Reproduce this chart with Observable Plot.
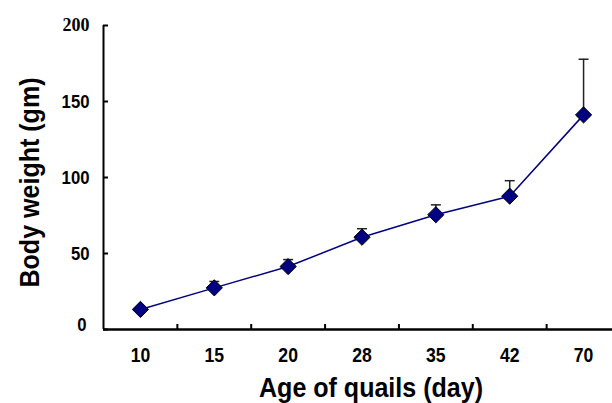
<!DOCTYPE html>
<html><head><meta charset="utf-8">
<script src="https://cdn.jsdelivr.net/npm/d3@7"></script>
<script src="https://cdn.jsdelivr.net/npm/@observablehq/plot@0.6"></script>
<style>body{margin:0;background:#fff}</style>
</head><body><div id="chart"></div>
<script>
const ages = ["10", "15", "20", "28", "35", "42", "70"];
const weights = [13.2, 27.4, 41.4, 60.7, 75.5, 87.7, 141.2];
const errors = [1, 4.2, 4.6, 5.6, 6.5, 10.2, 36.6];
const yTicks = [0, 50, 100, 150, 200];
const xTitle = "Age of quails (day)";
const yTitle = "Body weight (gm)";

const sans = "'Liberation Sans',Arial,sans-serif";
const serif = "'Liberation Serif','Times New Roman',serif";
const data = ages.map((a, i) => ({i, age: a, w: weights[i], top: weights[i] + errors[i]}));
const idx = d3.range(ages.length);
const xDomain = [-0.5, ages.length - 0.5];
const bounds = idx.slice(1).map(i => i - 0.5);
const cap = {draw(ctx, size) { const w = Math.sqrt(size / Math.PI); ctx.moveTo(-w, 0); ctx.lineTo(w, 0); }};

const plot = Plot.plot({
  width: 612, height: 403,
  marginLeft: 103, marginRight: -8, marginTop: 25, marginBottom: 74,
  style: {fontFamily: sans, fontWeight: "bold", fontSize: "20px", color: "#000", background: "#fff"},
  x: {type: "linear", domain: xDomain},
  y: {domain: [0, 200]},
  marks: [
    Plot.axisY({ticks: yTicks, tickSize: -5, tickFormat: () => "", label: null, strokeWidth: 2}),
    Plot.axisY({ticks: yTicks.filter(v => v !== 200 && v !== 0), tickSize: 0, tickPadding: 14, label: null, fontSize: 19}),
    Plot.axisY({ticks: yTicks.filter(v => v === 0), tickSize: 0, tickPadding: 17, dy: -5, label: null, fontSize: 19}),
    Plot.axisY({ticks: yTicks.filter(v => v === 200), tickSize: 0, tickPadding: 14, label: null, fontFamily: serif, fontSize: 18}),
    Plot.axisX({ticks: bounds, tickSize: -5, tickFormat: () => "", label: null, strokeWidth: 2}),
    Plot.axisX({ticks: idx, tickSize: 0, tickPadding: 18, tickFormat: i => ages[i], label: null, fontSize: 20}),
    Plot.ruleX([xDomain[0]], {y1: 0, y2: 200, strokeWidth: 2}),
    Plot.ruleY([0], {strokeWidth: 2.5}),
    Plot.ruleX(data, {x: "i", y1: "w", y2: "top", stroke: "#222", strokeWidth: 1.5}),
    Plot.dot(data, {x: "i", y: "top", symbol: cap, r: 5, stroke: "#222", strokeWidth: 1.5, fill: "none"}),
    Plot.line(data, {x: "i", y: "w", stroke: "#000080", strokeWidth: 1.5}),
    Plot.dot(data, {x: "i", y: "w", symbol: "diamond2", r: 7.3, fill: "#000080", stroke: "#000", strokeWidth: 1}),
    Plot.text([xTitle], {text: d => d, frameAnchor: "bottom", lineAnchor: "middle", textAnchor: "middle", dx: 9, dy: 59, fontSize: 27, fontFamily: sans, fontWeight: "bold"}),
    Plot.text([yTitle], {text: d => d, frameAnchor: "left", lineAnchor: "middle", textAnchor: "middle", dx: -73, dy: 5, rotate: -90, fontSize: 27, fontFamily: sans, fontWeight: "bold"})
  ]
});
document.getElementById("chart").append(plot);

// condense the Arial-Narrow-like labels
const titleLengths = {[xTitle]: 224, [yTitle]: 210};
plot.querySelectorAll("text").forEach(t => {
  const s = t.textContent;
  if (!s) return;
  const L = t.getComputedTextLength();
  if (!(L > 0)) return;
  let target;
  if (s in titleLengths) target = titleLengths[s];
  else if (s === "200") return;
  else target = L * 0.88;
  t.setAttribute("textLength", target);
  t.setAttribute("lengthAdjust", "spacingAndGlyphs");
});
</script>
</body></html>
